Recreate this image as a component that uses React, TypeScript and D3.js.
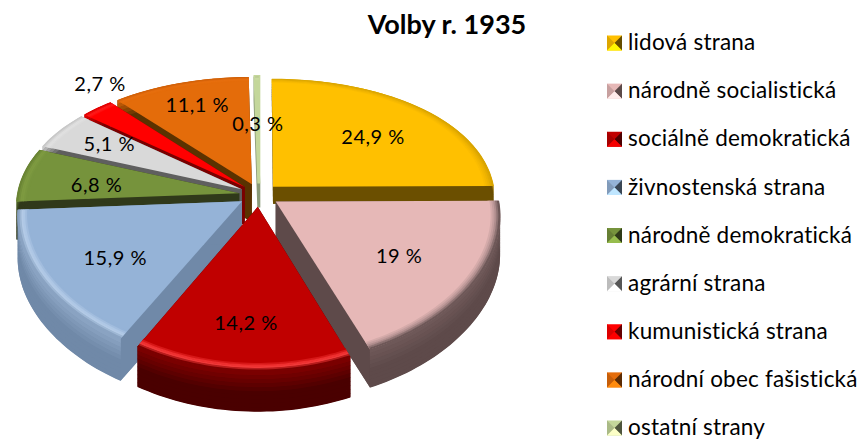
import React from 'react';
import * as d3 from 'd3';

const title = 'Volby r. 1935';
const parties = [
  'lidová strana',
  'národně socialistická',
  'sociálně demokratická',
  'živnostenská strana',
  'národně demokratická',
  'agrární strana',
  'kumunistická strana',
  'národní obec fašistická',
  'ostatní strany',
];
const shares = [24.9, 19, 14.2, 15.9, 6.8, 5.1, 2.7, 11.1, 0.3];
const shareLabels = ['24,9 %', '19 %', '14,2 %', '15,9 %', '6,8 %', '5,1 %', '2,7 %', '11,1 %', '0,3 %'];

// face, cut side, rim top, thin glint on the edge
const faceColors = ['#FFC000', '#E6B8B7', '#C00000', '#95B3D7', '#76933C', '#D9D9D9', '#FF0000', '#E46C0A', '#C4D79B'];
const sideColors = ['#6B4F00', '#5E4A4A', '#4A0000', '#7089A8', '#30391A', '#5F5F5F', '#7A0000', '#5A3200', '#8A9A78'];
const rimColors = ['#D8A400', '#6E5858', '#7A0000', '#8AA3C2', '#6A8434', '#C8C8C8', '#E00000', '#D06008', '#B8C890'];
const glintColors = ['#F0B400', '#B79494', '#FF4040', '#B8CFEA', '#7F9C42', '#E2E2E2', '#FF2020', '#E87010', '#CCDCA4'];

const depths = [17, 38, 40, 42, 38, 38, 38, 38, 24];
const labelRadii = [0.62, 0.66, 0.76, 0.68, 0.65, 0.72, 1.17, 0.74, 0.5];
const labelTurns = [5, 3, 0, -5, -4, 0, 8, 0, 0]; // degrees away from the slice middle
const drawOrder = [8, 7, 6, 5, 4, 0, 3, 1, 2];

const width = 860;
const height = 439;
const cx = 259;
const cy = 195;
const rx = 222;
const ry = 130;
const tilt = 0.18;
const explode = 0.09;

const arcs = d3.pie<number>().sort(null)(shares);
const legendY = d3.scalePoint<string>().domain(parties).range([43, 428]);
const line = d3.line();

function project(slice: d3.PieArcDatum<number>, r: number, angle: number, drop = 0): [number, number] {
  const mid = (slice.startAngle + slice.endAngle) / 2;
  const X = explode * Math.sin(mid) + r * Math.sin(angle);
  const F = -(explode * Math.cos(mid) + r * Math.cos(angle));
  const s = 1 / (1 - tilt * F);
  return [cx + rx * X * Math.pow(s, 0.55), cy + ry * F * s + drop];
}

function arcPoints(slice: d3.PieArcDatum<number>, r: number, drop = 0) {
  const steps = Math.max(2, Math.ceil((slice.endAngle - slice.startAngle) * 40));
  return d3.range(steps + 1).map((i) =>
    project(slice, r, slice.startAngle + ((slice.endAngle - slice.startAngle) * i) / steps, drop)
  );
}

function band(slice: d3.PieArcDatum<number>, r0: number, d0: number, r1: number, d1: number) {
  return line([...arcPoints(slice, r0, d0), ...arcPoints(slice, r1, d1).reverse()]) + 'Z';
}

function Slice({ index }: { index: number }) {
  const slice = arcs[index];
  const depth = depths[index];
  const apex = project(slice, 0, 0);
  const outer = arcPoints(slice, 1);
  const first = outer[0];
  const last = outer[outer.length - 1];
  const down = (p: [number, number]): [number, number] => [p[0], p[1] + depth];
  // the smallest slice would be a hair otherwise
  const outline = index === 8 ? 3 : 0;

  const rimColor = d3
    .scaleLinear<string>()
    .domain([0, 0.55, 1])
    .range([rimColors[index], sideColors[index], sideColors[index]]);
  const bevelColor = d3
    .scaleLinear<string>()
    .domain([0, 0.55, 1])
    .range([faceColors[index], glintColors[index], rimColors[index]]);

  return (
    <g>
      <path d={line([down(apex), ...outer.map(down)]) + 'Z'} fill={sideColors[index]} />
      <path
        d={line([apex, first, down(first), down(apex)]) + 'Z'}
        fill={sideColors[index]}
        stroke={sideColors[index]}
        strokeWidth={outline}
      />
      <path d={line([apex, last, down(last), down(apex)]) + 'Z'} fill={sideColors[index]} />
      {d3.range(10).map((i) => (
        <path
          key={i}
          d={band(slice, 1, (depth * i) / 10, 1, (depth * (i + 1)) / 10 + 0.5)}
          fill={rimColor(i / 9)}
        />
      ))}
      <path
        d={line([apex, ...outer]) + 'Z'}
        fill={faceColors[index]}
        stroke={faceColors[index]}
        strokeWidth={outline}
      />
      {d3.range(6).map((i) => (
        <path
          key={i}
          d={band(slice, 0.95 + (0.05 * i) / 6, 0, 0.95 + (0.05 * (i + 1)) / 6 + 0.002, 0)}
          fill={bevelColor(i / 5)}
        />
      ))}
    </g>
  );
}

function Swatch({ index, y }: { index: number; y: number }) {
  const x = 607;
  const size = 15;
  const top = y - size / 2;
  const c = d3.color(faceColors[index])!;
  const mx = x + size / 2;
  const my = top + size / 2;
  return (
    <g>
      <rect x={x} y={top} width={size} height={size} fill={faceColors[index]} />
      <path d={line([[x, top], [mx, my], [x, top + size]]) + 'Z'} fill={c.darker(0.4).formatHex()} />
      <path d={line([[x + size, top], [mx, my], [x + size, top + size]]) + 'Z'} fill={c.darker(2.6).formatHex()} />
      <path d={line([[x, top + size], [mx, my], [x + size, top + size]]) + 'Z'} fill={c.brighter(0.7).formatHex()} />
    </g>
  );
}

export default function App() {
  return (
    <svg
      width={width}
      height={height}
      style={{ position: 'absolute', left: 0, top: 0, background: '#fff', fontFamily: 'Lato, sans-serif' }}
    >
      {drawOrder.map((i) => (
        <Slice key={i} index={i} />
      ))}
      {arcs.map((slice, i) => {
        const mid = (slice.startAngle + slice.endAngle) / 2 + (labelTurns[i] * Math.PI) / 180;
        const [x, y] = project(slice, labelRadii[i], mid);
        return (
          <text
            key={i}
            x={x}
            y={y}
            textAnchor="middle"
            dominantBaseline="middle"
            fontSize={20}
            letterSpacing={0.5}
            fill="#000"
          >
            {shareLabels[i]}
          </text>
        );
      })}
      <text x={447} y={27} textAnchor="middle" dominantBaseline="middle" fontSize={27} fontWeight={700}>
        {title}
      </text>
      {parties.map((name, i) => (
        <g key={name}>
          <Swatch index={i} y={legendY(name)!} />
          <text x={628} y={legendY(name)!} dy={1.5} dominantBaseline="middle" fontSize={22.5} letterSpacing={0.2} fill="#000">
            {name}
          </text>
        </g>
      ))}
    </svg>
  );
}
